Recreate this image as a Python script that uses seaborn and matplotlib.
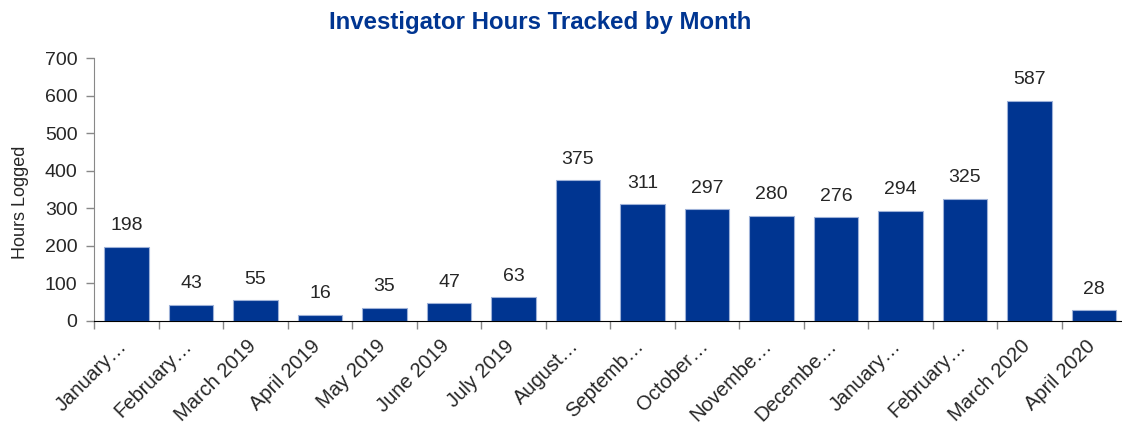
import numpy as np
import pandas as pd
import matplotlib
matplotlib.use("Agg")
import matplotlib.pyplot as plt
import matplotlib.transforms as mtransforms
import seaborn as sns

# chart data
months = ["January 2019", "February 2019", "March 2019", "April 2019", "May 2019",
          "June 2019", "July 2019", "August 2019", "September 2019", "October 2019",
          "November 2019", "December 2019", "January 2020", "February 2020",
          "March 2020", "April 2020"]
tick_labels = ["January…", "February…", "March 2019", "April 2019", "May 2019",
               "June 2019", "July 2019", "August…", "Septemb…", "October…",
               "Novembe…", "Decembe…", "January…", "February…", "March 2020",
               "April 2020"]
hours = [198, 43, 55, 16, 35, 47, 63, 375, 311, 297, 280, 276, 294, 325, 587, 28]

df = pd.DataFrame({"Month": months, "Hours": hours})

sns.set_style("white")
plt.rcParams["font.family"] = ["Liberation Sans", "DejaVu Sans"]

fig = plt.figure(figsize=(11.22, 4.29), dpi=100)
# category width ~64.5 px, the last one runs a bit past the right edge
ax = fig.add_axes([0.0840, 0.252, 0.9198, 0.612])

blue = "#003591"
txt = "#262626"
sns.barplot(data=df, x="Month", y="Hours", order=months, color=blue,
            saturation=1, width=0.69, edgecolor="#9db1d8", linewidth=0.8, ax=ax)

for c in ax.containers:
    ax.bar_label(c, labels=[str(v) for v in hours], padding=9,
                 fontsize=14, color=txt)

ax.set_ylim(0, 700)
ax.set_xlim(-0.5, len(months) - 0.5)
ax.set_yticks(np.arange(0, 701, 100))
ax.tick_params(axis="y", labelsize=14, labelcolor=txt, length=6,
               color="#888888", left=True, width=1, pad=6)

# labels at bar centres, tick marks at category boundaries
ax.set_xticks(range(len(months)))
ax.set_xticklabels(tick_labels, rotation=45, ha="right", fontsize=14.5, color=txt)
ax.tick_params(axis="x", which="major", length=0, pad=11)
ax.set_xticks(np.arange(-0.5, len(months), 1), minor=True)
ax.tick_params(axis="x", which="minor", length=6, color="#888888", bottom=True, width=1)
shift = mtransforms.ScaledTranslation(0.045, 0, fig.dpi_scale_trans)
for lbl in ax.get_xticklabels():
    lbl.set_transform(lbl.get_transform() + shift)

ax.set_xlabel("")
ax.set_ylabel("Hours Logged", fontsize=13, color=txt)
ax.yaxis.set_label_coords(-0.063, 0.453)

for s in ["top", "right"]:
    ax.spines[s].set_visible(False)
ax.spines["left"].set_color("#888888")
ax.spines["bottom"].set_color("black")

fig.text(0.4813, 0.948, "Investigator Hours Tracked by Month", ha="center", va="center",
         fontsize=17.3, fontweight="bold", color=blue)

fig.savefig("out.png", dpi=100)
